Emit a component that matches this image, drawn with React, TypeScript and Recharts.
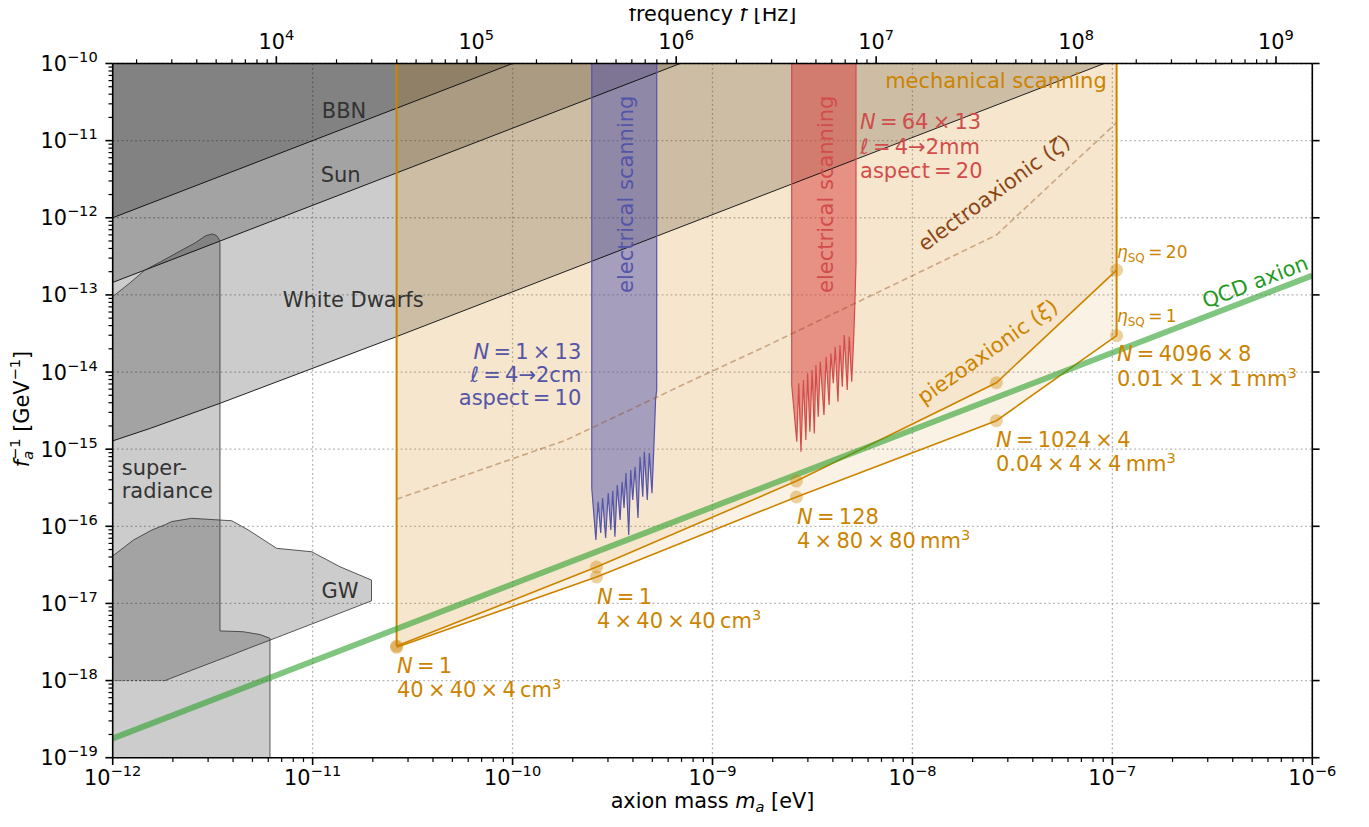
import React from 'react';
import {
  ComposedChart,
  Area,
  Line,
  Scatter,
  XAxis,
  YAxis,
  CartesianGrid,
  ReferenceDot,
} from 'recharts';

const W = 1353;
const H = 811;
const FONT = '"DejaVu Sans", sans-serif';
const ORANGE = '#cc8400';
const BLUE = '#5454a8';
const RED = '#d24c4c';
const BROWN = '#8b4513';
const GREEN = '#2ca02c';
const GRAY_TXT = '#333333';
const TS = '\u2009'; // thin space, mathtext-like spacing

const TOP = 1e-10;
const BOTTOM = 1e-19;
const HZ_PER_EV = 1.519e15;

// axis decades (log10)
const massDecades = [-12, -11, -10, -9, -8, -7, -6];
const couplingDecades = [-19, -18, -17, -16, -15, -14, -13, -12, -11, -10];
const freqDecades = [3, 4, 5, 6, 7, 8, 9];
const minorFactors = [2, 3, 4, 5, 6, 7, 8, 9];

// excluded regions: lower edge f_a^-1 vs axion mass (eV)
const bbnMass = [1e-12, 1e-10];
const bbnLimit = [1e-12, 1e-10];
const sunMass = [1e-12, 6.9e-10];
const sunLimit = [1.45e-13, 1e-10];
const wdMass = [1e-12, 1.54e-12, 3.44e-12, 2.62e-11, 9.1e-8];
const wdLimit = [1.28e-15, 1.86e-15, 3.93e-15, 2.87e-14, 1e-10];

// superradiance (upper edge, region extends down to the bottom)
const srMass = [
  1e-12, 1.22e-12, 1.45e-12, 1.73e-12, 2.22e-12, 2.58e-12, 2.9e-12, 3.14e-12, 3.3e-12, 3.4e-12,
  3.44e-12, 3.44e-12, 4.49e-12, 5.46e-12, 6.12e-12, 6.12e-12,
];
const srLimit = [
  9.5e-14, 1.43e-13, 2.1e-13, 2.67e-13, 3.82e-13, 4.71e-13, 5.81e-13, 6.17e-13, 5.9e-13, 5.3e-13,
  4.7e-13, 4.4e-18, 4.3e-18, 3.95e-18, 3.53e-18, 1e-19,
];

// gravitational waves
const gwMass = [1e-12, 1.27e-12, 1.57e-12, 1.83e-12, 1.97e-12, 2.48e-12, 3.94e-12, 4.77e-12, 6.61e-12, 9.89e-12, 1.37e-11, 1.97e-11];
const gwUpper = [4.12e-17, 6.64e-17, 8.95e-17, 1.05e-16, 1.15e-16, 1.27e-16, 1.18e-16, 8.95e-17, 5.18e-17, 4.68e-17, 2.99e-17, 2.01e-17];
const gwLower = [1e-18, 1e-18, 1e-18, 1e-18, 1.08e-18, 1.36e-18, 2.15e-18, 2.61e-18, 3.61e-18, 5.4e-18, 7.49e-18, 1.08e-17];

// electrical scanning, N = 1 x 13
const blueMass = [
  2.49e-10, 2.61e-10, 2.68e-10, 2.76e-10, 2.82e-10, 2.92e-10, 3.01e-10, 3.1e-10, 3.17e-10, 3.25e-10,
  3.34e-10, 3.45e-10, 3.53e-10, 3.61e-10, 3.69e-10, 3.81e-10, 3.9e-10, 3.99e-10, 4.1e-10, 4.24e-10,
  4.34e-10, 4.48e-10, 4.56e-10, 4.72e-10, 4.83e-10, 4.98e-10, 5.1e-10, 5.19e-10, 5.26e-10,
];
const blueLimit = [
  3.11e-16, 6.64e-17, 2.08e-16, 8.18e-17, 2.33e-16, 7.05e-17, 2.7e-16, 8.95e-17, 2.89e-16, 7.33e-17,
  3.43e-16, 1.21e-16, 3.78e-16, 1.73e-16, 4.91e-16, 7.71e-17, 5.37e-16, 2.19e-16, 5.92e-16, 1.28e-16,
  7.98e-16, 2.42e-16, 9.27e-16, 2.19e-16, 8.91e-16, 2.68e-16, 1.2e-15, 4.34e-15, 5.85e-15,
];

// electrical scanning, N = 64 x 13
const redMass = [
  2.49e-9, 2.64e-9, 2.7e-9, 2.77e-9, 2.85e-9, 2.93e-9, 2.99e-9, 3.07e-9, 3.15e-9, 3.23e-9,
  3.29e-9, 3.38e-9, 3.46e-9, 3.61e-9, 3.7e-9, 3.83e-9, 3.91e-9, 4.02e-9, 4.11e-9, 4.24e-9,
  4.34e-9, 4.46e-9, 4.56e-9, 4.72e-9, 4.83e-9, 4.97e-9, 5.08e-9, 5.16e-9, 5.22e-9,
];
const redLimit = [
  6.79e-15, 1.25e-15, 7.15e-15, 9.27e-16, 7.89e-15, 1.32e-15, 9.62e-15, 1.68e-15, 1.06e-14, 1.6e-15,
  1.23e-14, 2.64e-15, 1.36e-14, 2.77e-15, 1.58e-14, 3.73e-15, 1.75e-14, 7.15e-15, 2.13e-14, 4.12e-15,
  2.24e-14, 6.46e-15, 3.02e-14, 5.85e-15, 2.87e-14, 7.48e-15, 2.6e-14, 8.59e-14, 2.57e-13,
];

// mechanical scanning (piezoaxionic)
const piezoMass = [2.63e-11, 2.63e-10, 2.63e-9, 2.63e-8, 1.05e-7];
const piezoSq20 = [2.8e-18, 2.96e-17, 3.86e-16, 7.26e-15, 2.1e-13];
const piezoSq1 = [2.7e-18, 2.2e-17, 2.4e-16, 2.34e-15, 2.96e-14];

// electroaxionic
const electroMass = [2.63e-11, 1.85e-10, 8.65e-10, 1.73e-9, 8.65e-9, 2.63e-8, 1.05e-7];
const electroLimit = [2.25e-16, 1.31e-15, 8.69e-15, 1.99e-14, 1.48e-13, 5.97e-13, 1.71e-11];

// QCD axion
const qcdMass = [1e-12, 1e-6];
const qcdCoupling = [1.78e-19, 1.78e-13];

const lg = Math.log10;
const same = (arr: number[], v: number) => arr.map(() => v);
const rangeData = (mass: number[], low: number[], high: number[]) =>
  mass.map((m, i) => ({ x: lg(m), r: [lg(low[i]), lg(high[i])] }));
const lineData = (mass: number[], g: number[]) => mass.map((m, i) => ({ x: lg(m), y: lg(g[i]) }));

const withMinors = (decades: number[]) =>
  decades.flatMap((d, i) => (i < decades.length - 1 ? [d, ...minorFactors.map((k) => d + lg(k))] : [d]));
const massTicks = withMinors(massDecades);
const couplingTicks = withMinors(couplingDecades);
const fMin = lg(HZ_PER_EV) - 12;
const fMax = lg(HZ_PER_EV) - 6;
const freqTicks = freqDecades
  .flatMap((d) => [1, ...minorFactors].map((k) => d + lg(k)))
  .filter((v) => v >= fMin - 1e-9 && v <= fMax + 1e-9);

const isMajor = (v: number) => Math.abs(v - Math.round(v)) < 1e-6;
const expText = (v: number) => {
  const n = Math.round(v);
  return n < 0 ? '\u2212' + Math.abs(n) : String(n);
};
const TICK_FS = 20.8;
const SUP_FS = 14.6;

const Pow10 = ({ v }: { v: number }) => (
  <>
    10
    <tspan dy={-9} fontSize={SUP_FS}>
      {expText(v)}
    </tspan>
  </>
);

const BottomTick = (p: any) => {
  const { x, y, payload } = p;
  const major = isMajor(payload.value);
  return (
    <g>
      <line x1={x} x2={x} y1={y} y2={y + (major ? 7.3 : 4.2)} stroke="#000" strokeWidth={major ? 1.6 : 1.2} />
      {major && (
        <text x={x} y={y + 27} textAnchor="middle" fontFamily={FONT} fontSize={TICK_FS} fill="#000">
          <Pow10 v={payload.value} />
        </text>
      )}
    </g>
  );
};

const TopTick = (p: any) => {
  const { x, y, payload } = p;
  const major = isMajor(payload.value);
  return (
    <g>
      <line x1={x} x2={x} y1={y} y2={y - (major ? 7.3 : 4.2)} stroke="#000" strokeWidth={major ? 1.6 : 1.2} />
      {major && (
        <text x={x} y={y - 15} textAnchor="middle" fontFamily={FONT} fontSize={TICK_FS} fill="#000">
          <Pow10 v={payload.value} />
        </text>
      )}
    </g>
  );
};

const LeftTick = (p: any) => {
  const { x, y, payload } = p;
  const major = isMajor(payload.value);
  return (
    <g>
      <line x1={x} x2={x - (major ? 7.3 : 4.2)} y1={y} y2={y} stroke="#000" strokeWidth={major ? 1.6 : 1.2} />
      {major && (
        <text x={x - 15} y={y + 7.5} textAnchor="end" fontFamily={FONT} fontSize={TICK_FS} fill="#000">
          <Pow10 v={payload.value} />
        </text>
      )}
    </g>
  );
};

const RightTick = (p: any) => {
  const { x, y } = p;
  return <line x1={x} x2={x + 7.3} y1={y} y2={y} stroke="#000" strokeWidth={1.6} />;
};

const AXIS = { stroke: '#000', strokeWidth: 1.6 };

type NoteOpts = {
  x: number;
  y: number;
  color: string;
  anchor?: 'start' | 'middle' | 'end';
  size?: number;
  rotate?: number;
  central?: boolean;
};

const note = (key: string, o: NoteOpts, content: React.ReactNode) => (
  <ReferenceDot
    key={key}
    xAxisId="m"
    yAxisId="g"
    x={o.x}
    y={o.y}
    r={0}
    ifOverflow="visible"
    shape={(p: any) => (
      <text
        x={p.cx}
        y={p.cy}
        fill={o.color}
        fontFamily={FONT}
        fontSize={o.size ?? 21}
        textAnchor={o.anchor ?? 'start'}
        dominantBaseline={o.central ? 'central' : undefined}
        transform={o.rotate ? `rotate(${o.rotate} ${p.cx} ${p.cy})` : undefined}
      >
        {content}
      </text>
    )}
  />
);

const it = (s: string) => <tspan fontStyle="italic">{s}</tspan>;
const sup3 = (
  <tspan dy={-8} fontSize={SUP_FS}>
    3
  </tspan>
);
const math = (parts: string[]) => parts.join(TS);
const nEq = (rest: string) => (
  <>
    {it('N')}
    {TS + '=' + TS + rest}
  </>
);
const ellEq = (rest: string) => (
  <>
    {it('ℓ')}
    {TS + '=' + TS + rest}
  </>
);
const etaSq = (rest: string) => (
  <>
    <tspan fontStyle="italic">η</tspan>
    <tspan fontSize={12} dy={4}>
      SQ
    </tspan>
    <tspan dy={-4}>{rest}</tspan>
  </>
);

export default function App() {
  const bandTop = (m: number[]) => same(m, TOP);
  const outline = (mass: number[], lim: number[]) => [
    { x: lg(mass[0]), y: lg(TOP) },
    ...lineData(mass, lim),
    { x: lg(mass[mass.length - 1]), y: lg(TOP) },
  ];
  const gwOutline = [
    ...lineData(gwMass, gwUpper),
    ...lineData(gwMass.slice(3), gwLower.slice(3)).reverse(),
  ];
  const gwDashed = lineData([gwMass[3], gwMass[0]], [gwLower[3], gwLower[0]]);
  const dots = [...lineData(piezoMass, piezoSq20), ...lineData(piezoMass, piezoSq1)];
  // same QCD line expressed in frequency, only to give the top axis a series
  const qcdInFreq = lineData(qcdMass.map((m) => m * HZ_PER_EV), qcdCoupling);

  const lineCommon = {
    xAxisId: 'm',
    yAxisId: 'g',
    dataKey: 'y',
    dot: false,
    activeDot: false,
    isAnimationActive: false,
    type: 'linear' as const,
  };
  const areaCommon = {
    xAxisId: 'm',
    yAxisId: 'g',
    dataKey: 'r',
    stroke: 'none',
    isAnimationActive: false,
    type: 'linear' as const,
  };

  return (
    <div style={{ position: 'relative', width: W, height: H }}>
      <ComposedChart width={W} height={H} margin={{ top: 25.5, right: 38.7, bottom: 31.3, left: 44.7 }}>
        <CartesianGrid
          xAxisId="m"
          yAxisId="g"
          verticalValues={massDecades}
          horizontalValues={couplingDecades}
          stroke="#b0b0b0"
          strokeDasharray="1.7 2.8"
          strokeWidth={1.3}
        />
        <XAxis
          xAxisId="m"
          dataKey="x"
          type="number"
          domain={[-12, -6]}
          allowDataOverflow
          ticks={massTicks}
          interval={0}
          tick={BottomTick}
          tickLine={false}
          tickSize={0}
          tickMargin={0}
          axisLine={AXIS}
          height={30}
        />
        <XAxis
          xAxisId="f"
          dataKey="x"
          orientation="top"
          type="number"
          domain={[fMin, fMax]}
          allowDataOverflow
          ticks={freqTicks}
          interval={0}
          tick={TopTick}
          tickLine={false}
          tickSize={0}
          tickMargin={0}
          axisLine={AXIS}
          height={30}
        />
        <YAxis
          yAxisId="g"
          type="number"
          domain={[-19, -10]}
          allowDataOverflow
          ticks={couplingTicks}
          interval={0}
          tick={LeftTick}
          tickLine={false}
          tickSize={0}
          tickMargin={0}
          axisLine={AXIS}
          width={60}
        />
        <YAxis
          yAxisId="g2"
          orientation="right"
          type="number"
          domain={[-19, -10]}
          allowDataOverflow
          ticks={couplingDecades}
          interval={0}
          tick={RightTick}
          tickLine={false}
          tickSize={0}
          tickMargin={0}
          axisLine={AXIS}
          width={10}
        />

        {/* grey exclusion regions */}
        <Area {...areaCommon} data={rangeData(wdMass, wdLimit, bandTop(wdMass))} fill="#000" fillOpacity={0.2} />
        <Area {...areaCommon} data={rangeData(sunMass, sunLimit, bandTop(sunMass))} fill="#000" fillOpacity={0.2} />
        <Area {...areaCommon} data={rangeData(bbnMass, bbnLimit, bandTop(bbnMass))} fill="#000" fillOpacity={0.2} />
        <Area {...areaCommon} data={rangeData(srMass, same(srMass, BOTTOM), srLimit)} fill="#000" fillOpacity={0.2} />
        <Area {...areaCommon} data={rangeData(gwMass, gwLower, gwUpper)} fill="#000" fillOpacity={0.2} />

        {/* mechanical scanning */}
        <Area {...areaCommon} data={rangeData(piezoMass, piezoSq1, bandTop(piezoMass))} fill={ORANGE} fillOpacity={0.1} />
        <Area {...areaCommon} data={rangeData(piezoMass, piezoSq20, bandTop(piezoMass))} fill={ORANGE} fillOpacity={0.1} />

        {/* electrical scanning bands */}
        <Area {...areaCommon} data={rangeData(blueMass, blueLimit, bandTop(blueMass))} fill="#4646aa" fillOpacity={0.45} />
        <Area {...areaCommon} data={rangeData(redMass, redLimit, bandTop(redMass))} fill="#d73c3c" fillOpacity={0.5} />

        {/* outlines */}
        <Line {...lineCommon} data={lineData(wdMass, wdLimit)} stroke="#000" strokeOpacity={0.85} strokeWidth={1} />
        <Line {...lineCommon} data={lineData(sunMass, sunLimit)} stroke="#000" strokeOpacity={0.85} strokeWidth={1} />
        <Line {...lineCommon} data={lineData(bbnMass, bbnLimit)} stroke="#000" strokeOpacity={0.85} strokeWidth={1} />
        <Line {...lineCommon} data={lineData(srMass, srLimit)} stroke="#333" strokeOpacity={0.8} strokeWidth={1} />
        <Line {...lineCommon} data={gwOutline} stroke="#333" strokeOpacity={0.8} strokeWidth={1} />
        <Line {...lineCommon} data={gwDashed} stroke="#333" strokeOpacity={0.8} strokeWidth={1} strokeDasharray="2 2" />
        <Line {...lineCommon} data={outline(blueMass, blueLimit)} stroke={BLUE} strokeWidth={1.2} />
        <Line {...lineCommon} data={outline(redMass, redLimit)} stroke={RED} strokeWidth={1.2} />

        {/* electroaxionic */}
        <Line
          {...lineCommon}
          data={lineData(electroMass, electroLimit)}
          stroke={BROWN}
          strokeOpacity={0.4}
          strokeWidth={1.6}
          strokeDasharray="6 3.5"
        />

        {/* piezoaxionic */}
        <Line {...lineCommon} data={lineData(piezoMass, piezoSq20)} stroke={ORANGE} strokeWidth={1.6} />
        <Line {...lineCommon} data={lineData(piezoMass, piezoSq1)} stroke={ORANGE} strokeWidth={1.6} />
        <Line
          {...lineCommon}
          data={lineData([piezoMass[0], piezoMass[0]], [piezoSq20[0], TOP])}
          stroke={ORANGE}
          strokeWidth={2}
        />
        <Line
          {...lineCommon}
          data={lineData([piezoMass[4], piezoMass[4]], [piezoSq1[4], TOP])}
          stroke={ORANGE}
          strokeWidth={2}
        />

        {/* QCD axion */}
        <Line {...lineCommon} data={lineData(qcdMass, qcdCoupling)} stroke={GREEN} strokeOpacity={0.6} strokeWidth={6} />
        <Line {...lineCommon} xAxisId="f" data={qcdInFreq} stroke="none" strokeWidth={0} />

        <Scatter
          xAxisId="m"
          yAxisId="g"
          data={dots}
          dataKey="y"
          isAnimationActive={false}
          shape={(p: any) => <circle cx={p.cx} cy={p.cy} r={6.5} fill={ORANGE} fillOpacity={0.38} />}
        />

        {note('bbn', { x: -10.843, y: -10.711, color: GRAY_TXT, anchor: 'middle' }, 'BBN')}
        {note('sun', { x: -10.86, y: -11.532, color: GRAY_TXT, anchor: 'middle' }, 'Sun')}
        {note('wd', { x: -10.797, y: -13.153, color: GRAY_TXT, anchor: 'middle' }, 'White Dwarfs')}
        {note('sr1', { x: -11.955, y: -15.335, color: GRAY_TXT }, 'super-')}
        {note('sr2', { x: -11.955, y: -15.637, color: GRAY_TXT }, 'radiance')}
        {note('gw', { x: -10.863, y: -16.934, color: GRAY_TXT, anchor: 'middle' }, 'GW')}

        {note('mech', { x: -7.028, y: -10.314, color: ORANGE, anchor: 'end' }, 'mechanical scanning')}
        {note('es1', { x: -9.431, y: -11.695, color: BLUE, anchor: 'middle', rotate: -90, central: true }, 'electrical scanning')}
        {note('es2', { x: -8.432, y: -11.695, color: RED, anchor: 'middle', rotate: -90, central: true }, 'electrical scanning')}

        {note('b1', { x: -9.656, y: -13.832, color: BLUE, anchor: 'end' }, nEq(math(['1', '×', '13'])))}
        {note('b2', { x: -9.656, y: -14.129, color: BLUE, anchor: 'end' }, ellEq('4→2cm'))}
        {note('b3', { x: -9.656, y: -14.428, color: BLUE, anchor: 'end' }, math(['aspect', '=', '10']))}
        {note('r1', { x: -8.262, y: -10.849, color: RED }, nEq(math(['64', '×', '13'])))}
        {note('r2', { x: -8.262, y: -11.173, color: RED }, ellEq('4→2mm'))}
        {note('r3', { x: -8.262, y: -11.488, color: RED }, math(['aspect', '=', '20']))}

        {note('ea', { x: -7.592, y: -11.679, color: BROWN, anchor: 'middle', rotate: -36, central: true }, <>electroaxionic ({it('ζ')})</>)}
        {note('pa', { x: -7.624, y: -13.737, color: ORANGE, anchor: 'middle', rotate: -35, central: true }, <>piezoaxionic ({it('ξ')})</>)}

        {note('eta20', { x: -6.977, y: -12.522, color: ORANGE, size: 17 }, etaSq(TS + '=' + TS + '20'))}
        {note('eta1', { x: -6.977, y: -13.348, color: ORANGE, size: 17 }, etaSq(TS + '=' + TS + '1'))}
        {note('n4096', { x: -6.977, y: -13.853, color: ORANGE }, nEq(math(['4096', '×', '8'])))}
        {note('d4096', { x: -6.977, y: -14.177, color: ORANGE }, <>{math(['0.01', '×', '1', '×', '1', 'mm'])}{sup3}</>)}
        {note('n1024', { x: -7.582, y: -14.968, color: ORANGE }, nEq(math(['1024', '×', '4'])))}
        {note('d1024', { x: -7.582, y: -15.279, color: ORANGE }, <>{math(['0.04', '×', '4', '×', '4', 'mm'])}{sup3}</>)}
        {note('n128', { x: -8.577, y: -15.97, color: ORANGE }, nEq('128'))}
        {note('d128', { x: -8.577, y: -16.282, color: ORANGE }, <>{math(['4', '×', '80', '×', '80', 'mm'])}{sup3}</>)}
        {note('n1b', { x: -9.578, y: -17.008, color: ORANGE }, nEq('1'))}
        {note('d1b', { x: -9.578, y: -17.319, color: ORANGE }, <>{math(['4', '×', '40', '×', '40', 'cm'])}{sup3}</>)}
        {note('n1a', { x: -10.578, y: -17.902, color: ORANGE }, nEq('1'))}
        {note('d1a', { x: -10.578, y: -18.213, color: ORANGE }, <>{math(['40', '×', '40', '×', '4', 'cm'])}{sup3}</>)}

        {note('qcd', { x: -6.286, y: -12.834, color: '#1f9a1f', anchor: 'middle', rotate: -21, central: true }, 'QCD axion')}
      </ComposedChart>

      <svg
        width={W + 16}
        height={H + 16}
        style={{ position: 'absolute', left: -8, top: -8, pointerEvents: 'none' }}
        fontFamily={FONT}
        fontSize={20.8}
      >
        <text x={712.5} y={808} textAnchor="middle" fill="#000">
          axion mass <tspan fontStyle="italic">m</tspan>
          <tspan fontStyle="italic" fontSize={SUP_FS} dy={4}>
            a
          </tspan>
          <tspan dy={-4}> [eV]</tspan>
        </text>
        <text x={712.5} y={21} textAnchor="middle" fill="#000">
          frequency <tspan fontStyle="italic">f</tspan> [Hz]
        </text>
        <text transform="translate(22 409) rotate(-90)" textAnchor="middle" dominantBaseline="central" fill="#000">
          <tspan fontStyle="italic">f</tspan>
          <tspan fontStyle="italic" fontSize={SUP_FS} dy={5}>
            a
          </tspan>
          <tspan fontSize={SUP_FS} dx={-9} dy={-13}>
            −1
          </tspan>
          <tspan dy={8}> [GeV</tspan>
          <tspan fontSize={SUP_FS} dy={-8}>
            −1
          </tspan>
          <tspan dy={8}>]</tspan>
        </text>
      </svg>
    </div>
  );
}
